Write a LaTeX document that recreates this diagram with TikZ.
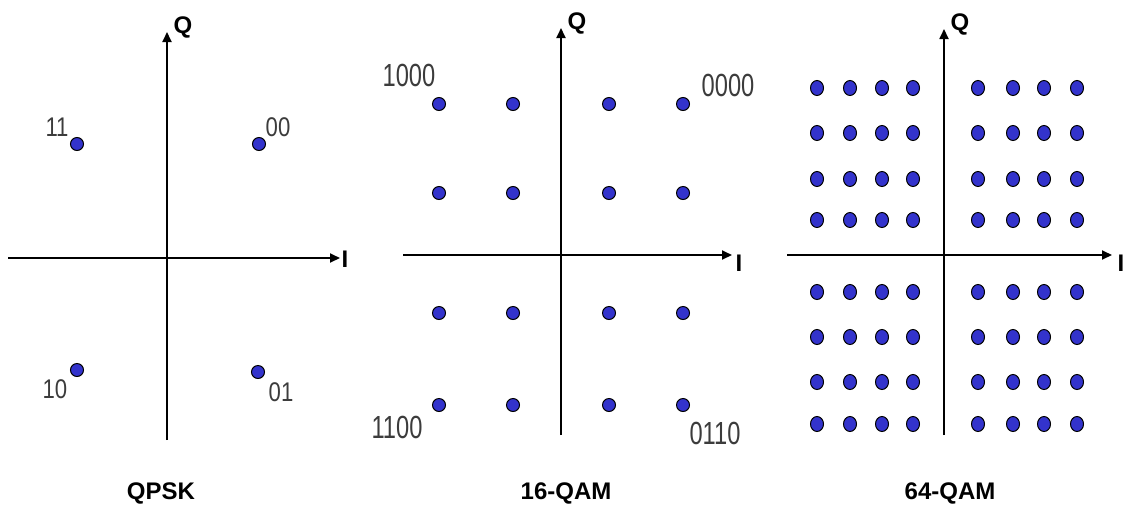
\documentclass[tikz,border=0pt]{standalone}
\usepackage{fontspec}
\setmainfont{Liberation Sans}
\usetikzlibrary{arrows.meta}
\usetikzlibrary{shapes.geometric}
\definecolor{dotblue}{RGB}{51,51,204}
\definecolor{labgray}{RGB}{60,60,60}
\tikzset{
  axis/.style={line width=1.8pt, -{Triangle[length=10pt,width=9pt]}},
  dot/.style={circle, draw=black, line width=1pt, fill=dotblue, inner sep=0pt, minimum size=13pt},
  dotb/.style={ellipse, draw=black, line width=1pt, fill=dotblue, inner sep=0pt, minimum width=13pt, minimum height=15pt},
  axlabel/.style={inner sep=0pt, font=\fontsize{24}{26}\selectfont\bfseries},
  title/.style={inner sep=0pt, font=\fontsize{24}{26}\selectfont\bfseries},
  bitsA/.style={inner sep=0pt, text=labgray, xscale=0.82, font=\fontsize{27}{29}\selectfont},
  bitsB/.style={inner sep=0pt, text=labgray, xscale=0.74, font=\fontsize{32}{34}\selectfont},
}
\begin{document}
\begin{tikzpicture}[x=1pt,y=-1pt]
\useasboundingbox (0,0) rectangle (1126,512);
% ---------- QPSK ----------
\coordinate (a1s) at (167,440); \coordinate (a1n) at (167,32);
\coordinate (a1w) at (8,258);   \coordinate (a1e) at (340,258);
\draw[axis] (a1s) -- (a1n);
\draw[axis] (a1w) -- (a1e);
\node[axlabel] (a1Q) at (183,27) {Q};
\node[axlabel] (a1I) at (345,259) {I};
\node[dot] (p11) at (77,144) {};
\node[dot] (p00) at (259,144) {};
\node[dot] (p10) at (77,370) {};
\node[dot] (p01) at (258,372) {};
\node[bitsA] (l11) at (57,127) {11};
\node[bitsA] (l00) at (278,127) {00};
\node[bitsA] (l10) at (55,389) {10};
\node[bitsA] (l01) at (281,392) {01};
\node[title] (t1) at (161,493) {QPSK};
% ---------- 16-QAM ----------
\coordinate (a2s) at (561,435); \coordinate (a2n) at (561,28);
\coordinate (a2w) at (403,255); \coordinate (a2e) at (732,255);
\draw[axis] (a2s) -- (a2n);
\draw[axis] (a2w) -- (a2e);
\node[axlabel] (a2Q) at (577,23) {Q};
\node[axlabel] (a2I) at (739,263) {I};
\foreach \x [count=\i] in {439,513,609,683}
  \foreach \y [count=\j] in {104,193,313,405}
    \node[dot] (s\i\j) at (\x,\y) {};
\node[bitsB] (l1000) at (409,75) {1000};
\node[bitsB] (l0000) at (728,85) {0000};
\node[bitsB] (l1100) at (397,427) {1100};
\node[bitsB] (l0110) at (715,433) {0110};
\node[title] (t2) at (566,493) {16-QAM};
% ---------- 64-QAM ----------
\coordinate (a3s) at (944,435); \coordinate (a3n) at (944,29);
\coordinate (a3w) at (787,255); \coordinate (a3e) at (1112,255);
\draw[axis] (a3s) -- (a3n);
\draw[axis] (a3w) -- (a3e);
\node[axlabel] (a3Q) at (960,24) {Q};
\node[axlabel] (a3I) at (1121,263) {I};
\foreach \x [count=\i] in {817,850,882,913,978,1013,1044,1077}
  \foreach \y [count=\j] in {88,133,179,220,292,337,382,424}
    \node[dotb] (b\i\j) at (\x,\y) {};
\node[title] (t3) at (950,493) {64-QAM};
\end{tikzpicture}
\end{document}
